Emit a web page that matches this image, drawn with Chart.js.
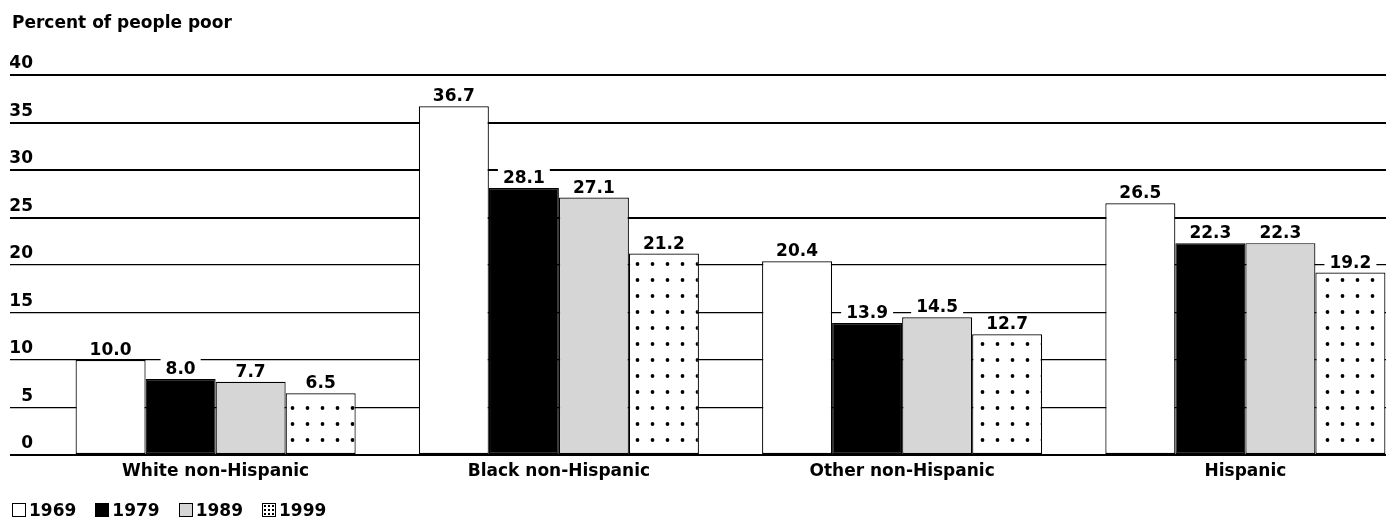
<!DOCTYPE html>
<html>
<head>
<meta charset="utf-8">
<title>Percent of people poor</title>
<script src="https://cdn.jsdelivr.net/npm/chart.js@4.4.0/dist/chart.umd.min.js"></script>
<style>
    html, body { margin: 0; padding: 0; background: #fff; }
    #wrap { position: relative; width: 1386px; height: 520px; overflow: hidden; }
    #poverty { position: absolute; left: 0; top: 0; display: block; }
    #title, #legend { position: absolute; font: bold 17px "DejaVu Sans", sans-serif; line-height: 20px; color: #000; }
    #title { left: 12px; top: 12px; }
    #legend { left: 12px; top: 500px; display: flex; }
    .item { display: flex; align-items: center; margin-right: 19px; }
    .swatch { width: 14px; height: 14px; border: 1.5px solid #000; box-sizing: border-box; margin-right: 3px; }
</style>
</head>
<body>
<div id="wrap">
    <canvas id="poverty" width="1420" height="520"></canvas>
    <div id="title">Percent of people poor</div>
    <div id="legend"></div>
</div>
<script>
// data
var categories = ["White non-Hispanic", "Black non-Hispanic", "Other non-Hispanic", "Hispanic"];
var years = ["1969", "1979", "1989", "1999"];
var values1969 = [10.0, 36.7, 20.4, 26.5];
var values1979 = [8.0, 28.1, 13.9, 22.3];
var values1989 = [7.7, 27.1, 14.5, 22.3];
var values1999 = [6.5, 21.2, 12.7, 19.2];
var yTicks = [0, 5, 10, 15, 20, 25, 30, 35, 40];
var thickLines = [0, 25, 30, 35, 40];

var font = { family: '"DejaVu Sans", sans-serif', size: 17, weight: 'bold' };

var canvas = document.getElementById('poverty');
var ctx = canvas.getContext('2d');

// white tile with one black dot, repeated for the 1999 bars
function dotPattern() {
    var tile = document.createElement('canvas');
    tile.width = 15;
    tile.height = 16;
    var c = tile.getContext('2d');
    c.fillStyle = '#fff';
    c.fillRect(0, 0, 15, 16);
    c.fillStyle = '#000';
    c.beginPath();
    c.arc(7.5, 8, 1.9, 0, Math.PI * 2);
    c.fill();
    return ctx.createPattern(tile, 'repeat');
}

var fills = ['#ffffff', '#000000', '#d6d6d6', dotPattern()];
var series = [values1969, values1979, values1989, values1999];

// value above every bar, on a white patch that breaks the grid line
var valueLabels = {
    id: 'valueLabels',
    afterDatasetsDraw: function (chart) {
        var c = chart.ctx;
        c.save();
        c.font = 'bold 17px "DejaVu Sans", sans-serif';
        c.textAlign = 'center';
        c.textBaseline = 'alphabetic';
        chart.data.datasets.forEach(function (ds, i) {
            chart.getDatasetMeta(i).data.forEach(function (bar, j) {
                var text = ds.data[j].toFixed(1);
                var w = c.measureText(text).width;
                var y = bar.y - 5;
                c.fillStyle = '#fff';
                c.fillRect(bar.x - w / 2 - 5, y - 15, w + 10, 18);
                c.fillStyle = '#000';
                c.fillText(text, bar.x, y);
            });
        });
        c.restore();
    }
};

var povertyChart = new Chart(canvas, {
    type: 'bar',
    data: {
        labels: categories,
        datasets: years.map(function (year, i) {
            return {
                label: year,
                data: series[i],
                backgroundColor: fills[i],
                borderColor: '#000',
                borderWidth: 1.2,
                borderSkipped: false,
                categoryPercentage: 0.816,
                barPercentage: 1
            };
        })
    },
    options: {
        responsive: false,
        animation: false,
        layout: { padding: { top: 75, right: 3, bottom: 38, left: 0 } },
        plugins: {
            legend: { display: false },
            tooltip: { enabled: false }
        },
        scales: {
            x: {
                grid: { display: false, drawTicks: false },
                border: { display: false },
                ticks: { color: '#000', font: font, padding: 6 },
                afterFit: function (scale) { scale.height = 27; }
            },
            y: {
                min: 0,
                max: 40,
                afterBuildTicks: function (scale) {
                    scale.ticks = yTicks.map(function (v) { return { value: v }; });
                },
                grid: {
                    color: '#000',
                    tickLength: 34,
                    lineWidth: function (c) {
                        return thickLines.indexOf(c.tick.value) !== -1 ? 2 : 1.2;
                    }
                },
                border: { display: false },
                ticks: { color: '#000', font: font, padding: -23, labelOffset: -11 },
                afterFit: function (scale) { scale.width = 44; }
            }
        }
    },
    plugins: [valueLabels]
});

// legend under the chart
var legend = document.getElementById('legend');
years.forEach(function (year, i) {
    var item = document.createElement('div');
    item.className = 'item';
    var sw = document.createElement('span');
    sw.className = 'swatch';
    if (i === 3) {
        sw.style.background = 'radial-gradient(circle, #000 0.9px, transparent 1.3px) 0 0 / 4px 4px, #fff';
    } else {
        sw.style.background = fills[i];
    }
    item.appendChild(sw);
    item.appendChild(document.createTextNode(year));
    legend.appendChild(item);
});
</script>
</body>
</html>
